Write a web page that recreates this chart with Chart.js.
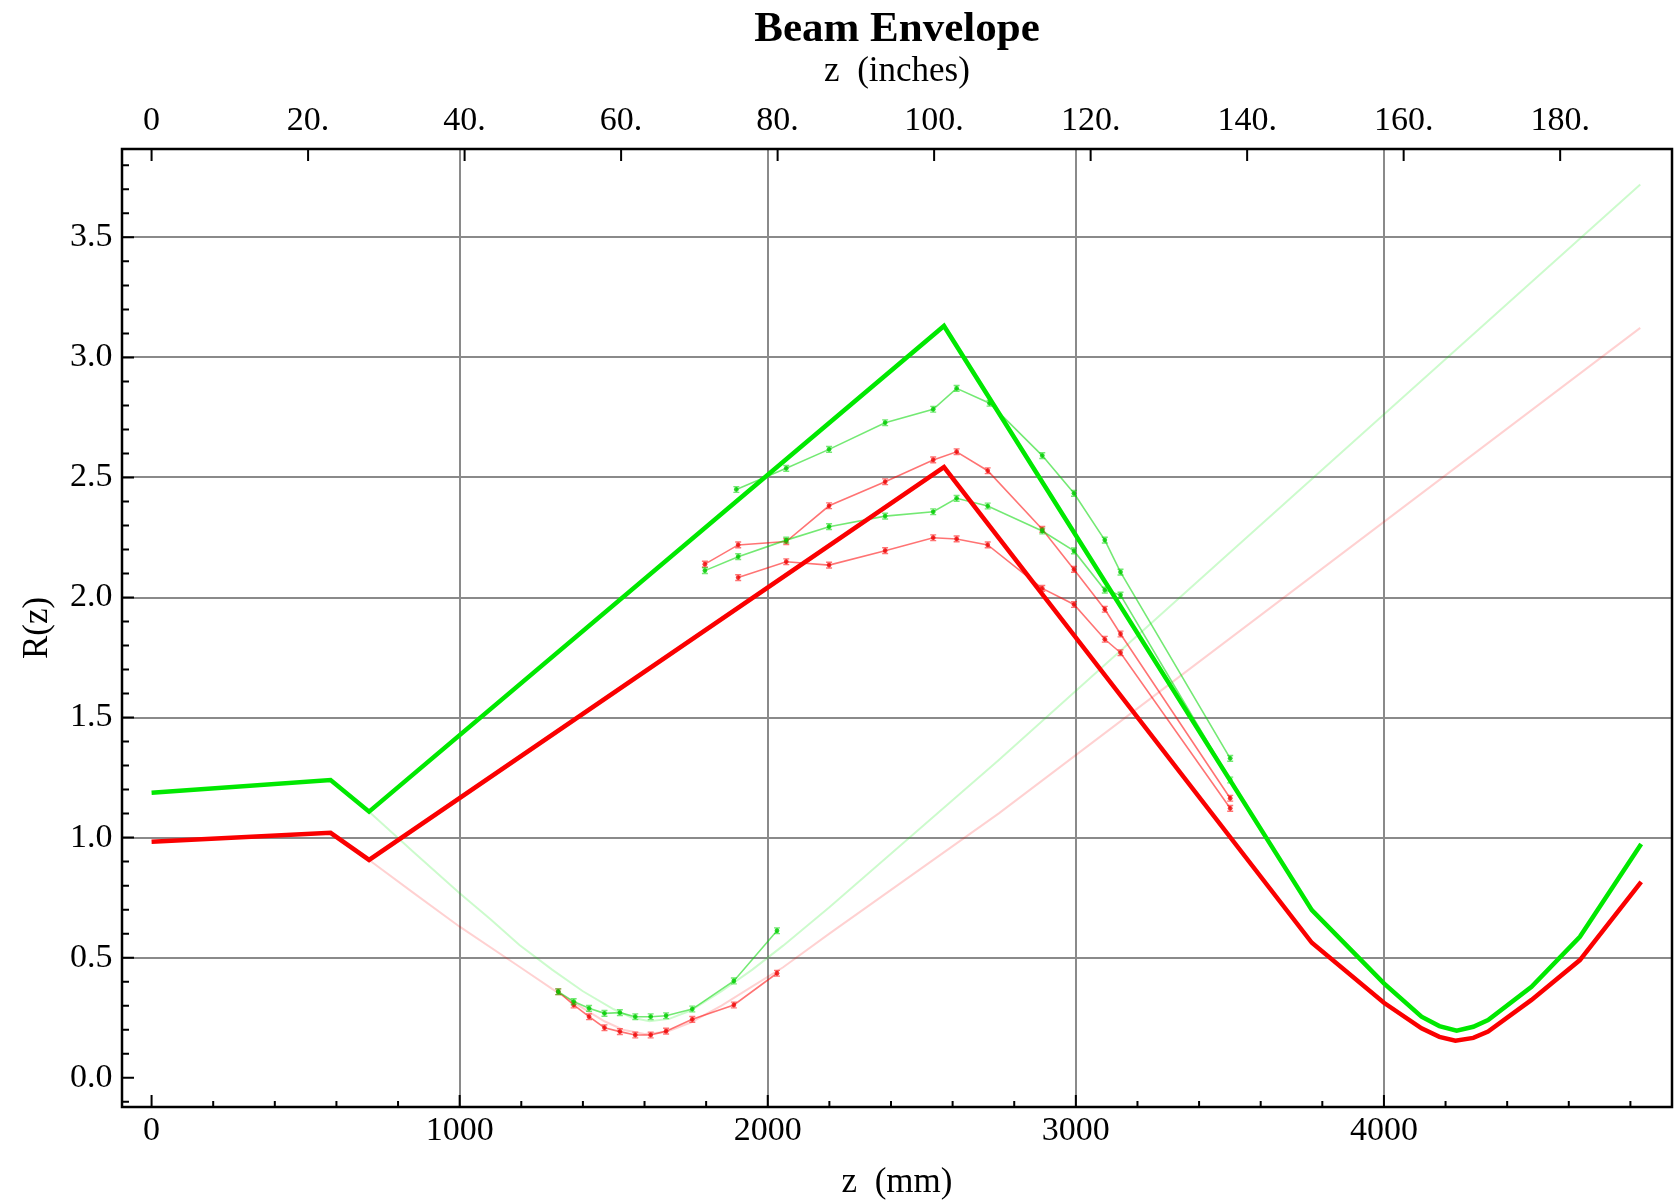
<!DOCTYPE html>
<html>
<head>
<meta charset="utf-8">
<title>Beam Envelope</title>
<script src="https://cdn.jsdelivr.net/npm/chart.js@4.4.1/dist/chart.umd.min.js"></script>
<style>
  html, body { margin: 0; padding: 0; background: #ffffff; }
  #wrap { width: 1676px; height: 1201px; }
</style>
</head>
<body>
<div id="wrap"><canvas id="c" width="1676" height="1201"></canvas></div>
<script>
// ---- axis ranges (z in mm, top axis shows the same z in inches) ----
const zMinMm = -96;
const zMaxMm = 4935;
const rMin = -0.122;
const rMax = 3.868;
const mmPerInch = 25.4;

// ---- tick labels ----
const mmTicks = [0, 1000, 2000, 3000, 4000];
const inchTicks = [0, 20, 40, 60, 80, 100, 120, 140, 160, 180];
const rTicks = [0, 0.5, 1.0, 1.5, 2.0, 2.5, 3.0, 3.5];

// ---- computed envelopes (thick curves) ----
const envGreenZ = [0, 581, 706, 2572, 3766, 4000, 4122, 4180, 4236, 4290, 4338, 4479, 4636, 4835];
const envGreenR = [1.187, 1.240, 1.108, 3.131, 0.698, 0.393, 0.254, 0.215, 0.196, 0.212, 0.240, 0.379, 0.587, 0.973];
const envRedZ   = [0, 581, 706, 2572, 3766, 4000, 4122, 4180, 4232, 4290, 4338, 4479, 4636, 4835];
const envRedR   = [0.983, 1.020, 0.907, 2.543, 0.562, 0.312, 0.206, 0.170, 0.154, 0.166, 0.192, 0.324, 0.490, 0.816];

// ---- alternative focusing (faint curves) ----
const altGreenZ = [706, 850, 1000, 1100, 1194, 1300, 1400, 1500, 1560, 1616, 1680, 1750, 1850, 1950, 2050, 2200, 2750, 3473, 4832];
const altGreenR = [1.108, 0.94, 0.768, 0.66, 0.553, 0.45, 0.36, 0.285, 0.25, 0.235, 0.245, 0.28, 0.36, 0.45, 0.55, 0.71, 1.323, 2.156, 3.72];
const altRedZ   = [706, 850, 1000, 1194, 1300, 1400, 1470, 1530, 1600, 1670, 1750, 1850, 1950, 2050, 2200, 2750, 3658, 4832];
const altRedR   = [0.907, 0.77, 0.629, 0.462, 0.37, 0.29, 0.235, 0.20, 0.182, 0.19, 0.23, 0.30, 0.38, 0.46, 0.60, 1.101, 1.983, 3.123];

// ---- measured radii with error bars ----
const measLowZ      = [1320, 1370, 1420, 1470, 1520, 1570, 1620, 1670, 1755, 1890, 2030];
const measLowGreenR = [0.358, 0.317, 0.289, 0.268, 0.271, 0.254, 0.254, 0.258, 0.286, 0.403, 0.612];
const measLowRedR   = [0.358, 0.303, 0.254, 0.208, 0.192, 0.178, 0.178, 0.194, 0.243, 0.303, 0.435];

const measGreenAZ = [1898, 2060, 2199, 2381, 2537, 2613, 2720, 2891, 2994, 3094, 3145, 3501];
const measGreenAR = [2.45, 2.538, 2.617, 2.728, 2.784, 2.871, 2.809, 2.591, 2.434, 2.239, 2.106, 1.330];
const measGreenBZ = [1796, 1904, 2060, 2199, 2381, 2537, 2613, 2714, 2891, 2994, 3094, 3145, 3501];
const measGreenBR = [2.112, 2.170, 2.239, 2.295, 2.339, 2.357, 2.413, 2.381, 2.277, 2.194, 2.031, 2.010, 1.240];
const measRedCZ   = [1796, 1904, 2060, 2199, 2381, 2537, 2613, 2714, 2891, 2994, 3094, 3145, 3501];
const measRedCR   = [2.139, 2.219, 2.233, 2.382, 2.482, 2.573, 2.607, 2.528, 2.284, 2.117, 1.951, 1.848, 1.164];
const measRedDZ   = [1904, 2060, 2199, 2381, 2537, 2613, 2714, 2891, 2994, 3094, 3145, 3501];
const measRedDR   = [2.083, 2.149, 2.135, 2.195, 2.249, 2.244, 2.219, 2.038, 1.971, 1.826, 1.770, 1.122];

const measError = 0.012;

const toPoints = (zs, rs) => zs.map((z, i) => ({ x: z, y: rs[i] }));
const fixedTicks = values => scale => { scale.ticks = values.map(v => ({ value: v })); };

const SERIF = "'Liberation Serif', 'DejaVu Serif', serif";
const GREEN = 'rgb(0, 232, 0)';
const RED = 'rgb(250, 0, 0)';
const GREEN_MEAS = 'rgba(0, 215, 0, 0.55)';
const RED_MEAS = 'rgba(255, 0, 0, 0.55)';
const GREEN_FAINT = 'rgba(0, 235, 0, 0.2)';
const RED_FAINT = 'rgba(255, 0, 0, 0.18)';
const GRID = '#8a8a8a';

function envelope(label, zs, rs, color) {
  return { label, data: toPoints(zs, rs), borderColor: color, borderWidth: 4.5,
           pointRadius: 0, tension: 0, fill: false };
}
function measured(label, zs, rs, color, dot) {
  return { label, data: toPoints(zs, rs), borderColor: color, borderWidth: 1.6,
           pointRadius: 2.4, pointBorderWidth: 0, pointBackgroundColor: dot,
           tension: 0, fill: false, errorBar: measError };
}
function faint(label, zs, rs, color) {
  return { label, data: toPoints(zs, rs), borderColor: color, borderWidth: 2,
           pointRadius: 0, tension: 0, fill: false };
}

// small vertical error bars with caps on measured points
const errorBarPlugin = {
  id: 'errorBarPlugin',
  afterDatasetDraw(chart, args) {
    const ds = chart.data.datasets[args.index];
    if (!ds.errorBar) return;
    const ctx = chart.ctx;
    const ys = chart.scales.y;
    ctx.save();
    ctx.strokeStyle = ds.borderColor;
    ctx.lineWidth = 1.4;
    args.meta.data.forEach((el, j) => {
      const v = ds.data[j].y;
      const top = ys.getPixelForValue(v + ds.errorBar);
      const bot = ys.getPixelForValue(v - ds.errorBar);
      ctx.beginPath();
      ctx.moveTo(el.x, top); ctx.lineTo(el.x, bot);
      ctx.moveTo(el.x - 3, top); ctx.lineTo(el.x + 3, top);
      ctx.moveTo(el.x - 3, bot); ctx.lineTo(el.x + 3, bot);
      ctx.stroke();
    });
    ctx.restore();
  }
};

// frame around the plot and inward-pointing tick marks
const framePlugin = {
  id: 'framePlugin',
  afterDraw(chart) {
    const { ctx, chartArea: a, scales } = chart;
    ctx.save();
    ctx.strokeStyle = '#000';
    ctx.lineWidth = 2;
    ctx.beginPath();
    const xs = scales.x;
    for (let k = 0; k * 200 <= xs.max; k++) {
      const px = xs.getPixelForValue(k * 200);
      const len = (k % 5 === 0) ? 12 : 6;
      ctx.moveTo(px, a.bottom); ctx.lineTo(px, a.bottom - len);
    }
    const xt = scales.xTop;
    inchTicks.forEach(v => {
      const px = xt.getPixelForValue(v);
      ctx.moveTo(px, a.top); ctx.lineTo(px, a.top + 12);
    });
    const ys = scales.y;
    for (let k = Math.ceil(ys.min * 10); k <= Math.floor(ys.max * 10); k++) {
      const py = ys.getPixelForValue(k / 10);
      const len = (k % 5 === 0) ? 12 : 7;
      ctx.moveTo(a.left, py); ctx.lineTo(a.left + len, py);
    }
    ctx.stroke();
    ctx.lineWidth = 2.5;
    ctx.strokeRect(a.left, a.top, a.right - a.left, a.bottom - a.top);
    ctx.restore();
  }
};

const hideAtZero = c => (c.tick && Math.abs(c.tick.value) < 1e-9) ? 'rgba(0,0,0,0)' : GRID;

new Chart(document.getElementById('c'), {
  type: 'line',
  data: {
    datasets: [
      envelope('Envelope (green)', envGreenZ, envGreenR, GREEN),
      envelope('Envelope (red)', envRedZ, envRedR, RED),
      measured('Measured A (green)', measGreenAZ, measGreenAR, GREEN_MEAS, 'rgba(0,200,0,0.8)'),
      measured('Measured B (green)', measGreenBZ, measGreenBR, GREEN_MEAS, 'rgba(0,200,0,0.8)'),
      measured('Measured C (red)', measRedCZ, measRedCR, RED_MEAS, 'rgba(230,0,0,0.75)'),
      measured('Measured D (red)', measRedDZ, measRedDR, RED_MEAS, 'rgba(230,0,0,0.75)'),
      measured('Measured waist (green)', measLowZ, measLowGreenR, GREEN_MEAS, 'rgba(0,200,0,0.8)'),
      measured('Measured waist (red)', measLowZ, measLowRedR, RED_MEAS, 'rgba(230,0,0,0.75)'),
      faint('Alternative (green)', altGreenZ, altGreenR, GREEN_FAINT),
      faint('Alternative (red)', altRedZ, altRedR, RED_FAINT)
    ]
  },
  plugins: [errorBarPlugin, framePlugin],
  options: {
    responsive: false,
    animation: false,
    devicePixelRatio: 1,
    layout: { padding: { left: 0, right: 2, top: 0, bottom: 0 } },
    plugins: {
      legend: { display: false },
      tooltip: { enabled: false },
      title: {
        display: true,
        text: 'Beam Envelope',
        fullSize: false,
        color: '#000',
        font: { family: SERIF, size: 43, weight: 'bold', lineHeight: 1.2 },
        padding: { top: 4, bottom: 0 }
      }
    },
    scales: {
      x: {
        type: 'linear', position: 'bottom', min: zMinMm, max: zMaxMm,
        afterBuildTicks: fixedTicks(mmTicks),
        afterFit: s => { s.height = 94; },
        border: { display: false },
        grid: { drawTicks: false, lineWidth: 2, color: hideAtZero },
        ticks: {
          padding: 4, color: '#000', autoSkip: false, maxRotation: 0,
          font: { family: SERIF, size: 34 },
          callback: v => String(v)
        },
        title: {
          display: true, text: 'z  (mm)', color: '#000',
          font: { family: SERIF, size: 35, lineHeight: 1 },
          padding: { top: 0, bottom: 1 }
        }
      },
      xTop: {
        type: 'linear', position: 'top', min: zMinMm / mmPerInch, max: zMaxMm / mmPerInch,
        afterBuildTicks: fixedTicks(inchTicks),
        afterFit: s => { s.height = 93.4; },
        border: { display: false },
        grid: { display: false, drawTicks: false },
        ticks: {
          padding: 8, color: '#000', autoSkip: false, maxRotation: 0,
          font: { family: SERIF, size: 34 },
          callback: v => (v === 0 ? '0' : v + '.')
        },
        title: {
          display: true, text: 'z  (inches)', color: '#000',
          font: { family: SERIF, size: 35, lineHeight: 1 },
          padding: { top: -1.5, bottom: 0 }
        }
      },
      y: {
        type: 'linear', position: 'left', min: rMin, max: rMax,
        afterBuildTicks: fixedTicks(rTicks),
        afterFit: s => { s.width = 122; },
        border: { display: false },
        grid: { drawTicks: false, lineWidth: 2, color: hideAtZero },
        ticks: {
          padding: 9.5, color: '#000',
          font: { family: SERIF, size: 34 },
          callback: v => Number(v).toFixed(1)
        },
        title: {
          display: true, text: 'R(z)', color: '#000',
          font: { family: SERIF, size: 35, lineHeight: 1 },
          padding: { top: 20, bottom: 0 }
        }
      }
    }
  }
});
</script>
</body>
</html>
